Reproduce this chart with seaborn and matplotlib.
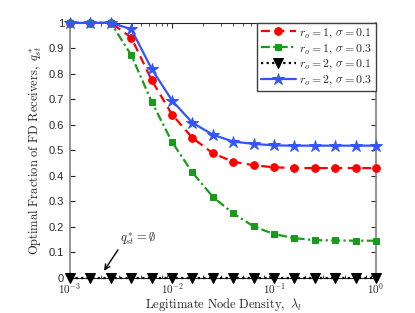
import matplotlib
matplotlib.use("Agg")
import matplotlib.pyplot as plt
import matplotlib.ticker as mticker
import numpy as np
import pandas as pd
import seaborn as sns

# node density samples (0.2 decade steps from 1e-3 to 1e0)
density = [0.001, 0.00158, 0.00251, 0.00398, 0.00631, 0.01, 0.0158, 0.0251,
           0.0398, 0.0631, 0.1, 0.158, 0.251, 0.398, 0.631, 1.0]
q_r1_s01 = [1.0, 1.0, 1.0, 0.942, 0.775, 0.640, 0.549, 0.488,
            0.455, 0.441, 0.433, 0.430, 0.430, 0.430, 0.430, 0.430]
q_r1_s03 = [1.0, 1.0, 1.0, 0.873, 0.690, 0.532, 0.413, 0.317,
            0.252, 0.201, 0.171, 0.155, 0.147, 0.146, 0.145, 0.145]
q_r2_s01 = [0.0] * 16
q_r2_s03 = [1.0, 1.0, 1.0, 0.975, 0.819, 0.695, 0.608, 0.561,
            0.534, 0.525, 0.519, 0.518, 0.518, 0.518, 0.518, 0.518]

series = {
    r"$r_o=1,\,\sigma=0.1$": q_r1_s01,
    r"$r_o=1,\,\sigma=0.3$": q_r1_s03,
    r"$r_o=2,\,\sigma=0.1$": q_r2_s01,
    r"$r_o=2,\,\sigma=0.3$": q_r2_s03,
}
df = pd.concat([pd.DataFrame({"density": density, "q": v, "case": k})
                for k, v in series.items()], ignore_index=True)

styles = [
    dict(color="#ff0000", ls=(0, (4, 2.5)), marker="o", ms=5.5),
    dict(color="#1a9a1a", ls=(0, (4, 1.5, 1, 1.5)), marker="s", ms=5),
    dict(color="black", ls=(0, (1, 1.5)), marker="v", ms=6.5),
    dict(color="#3355ff", ls="-", marker="*", ms=9),
]

sns.set_style("ticks")
plt.rcParams["mathtext.fontset"] = "cm"
plt.rcParams["font.family"] = ["Liberation Sans", "DejaVu Sans"]

fig = plt.figure(figsize=(4.15, 3.13), dpi=100)
ax = fig.add_axes([0.169, 0.113, 0.737, 0.814])

for (case, sub), st in zip(df.groupby("case", sort=False), styles):
    sns.lineplot(data=sub, x="density", y="q", ax=ax, label=case,
                 color=st["color"], linestyle=st["ls"], linewidth=1.6,
                 marker=st["marker"], markersize=st["ms"],
                 markeredgecolor=st["color"], markerfacecolor=st["color"],
                 clip_on=False, zorder=3)

ax.set_xscale("log")
ax.set_xlim(1e-3, 1)
ax.set_ylim(0, 1)
ax.set_yticks(np.arange(0, 1.01, 0.1))
ax.yaxis.set_major_formatter(mticker.FuncFormatter(lambda v, p: "%g" % round(v, 1)))
ax.xaxis.set_major_formatter(mticker.FuncFormatter(
    lambda v, p: r"$\mathsf{10^{%d}}$" % int(round(np.log10(v)))))
ax.tick_params(which="both", direction="in", top=True, right=True, labelsize=8)
ax.tick_params(axis="x", pad=2.5)
ax.tick_params(axis="y", pad=4.5)
ax.tick_params(which="major", length=3.5)
ax.tick_params(which="minor", length=2)
for s in ["left", "right"]:
    ax.spines[s].set_color("#808080")
    ax.spines[s].set_linewidth(1.2)

ax.set_xlabel(r"$\mathrm{Legitimate\ Node\ Density,}\ \lambda_l$", fontsize=9, labelpad=0)
ax.set_ylabel(r"$\mathrm{Optimal\ Fraction\ of\ FD\ Receivers,}\ q_{st}^*$", fontsize=9, labelpad=3)

ax.annotate(r"$q_{st}^*=\emptyset$", xy=(0.00215, 0.027), xytext=(0.0031, 0.122),
            fontsize=9, ha="left", va="bottom",
            arrowprops=dict(arrowstyle="->", color="black", lw=1,
                            shrinkA=0, shrinkB=0, relpos=(0, 0)))

leg = ax.legend(loc="upper right", borderaxespad=0, fontsize=8.5, handlelength=3,
                handletextpad=0.3, labelspacing=0.2, borderpad=0.3,
                fancybox=False, framealpha=1, edgecolor="#404040")
leg.get_frame().set_linewidth(1.0)

fig.savefig("out.png", dpi=100)
